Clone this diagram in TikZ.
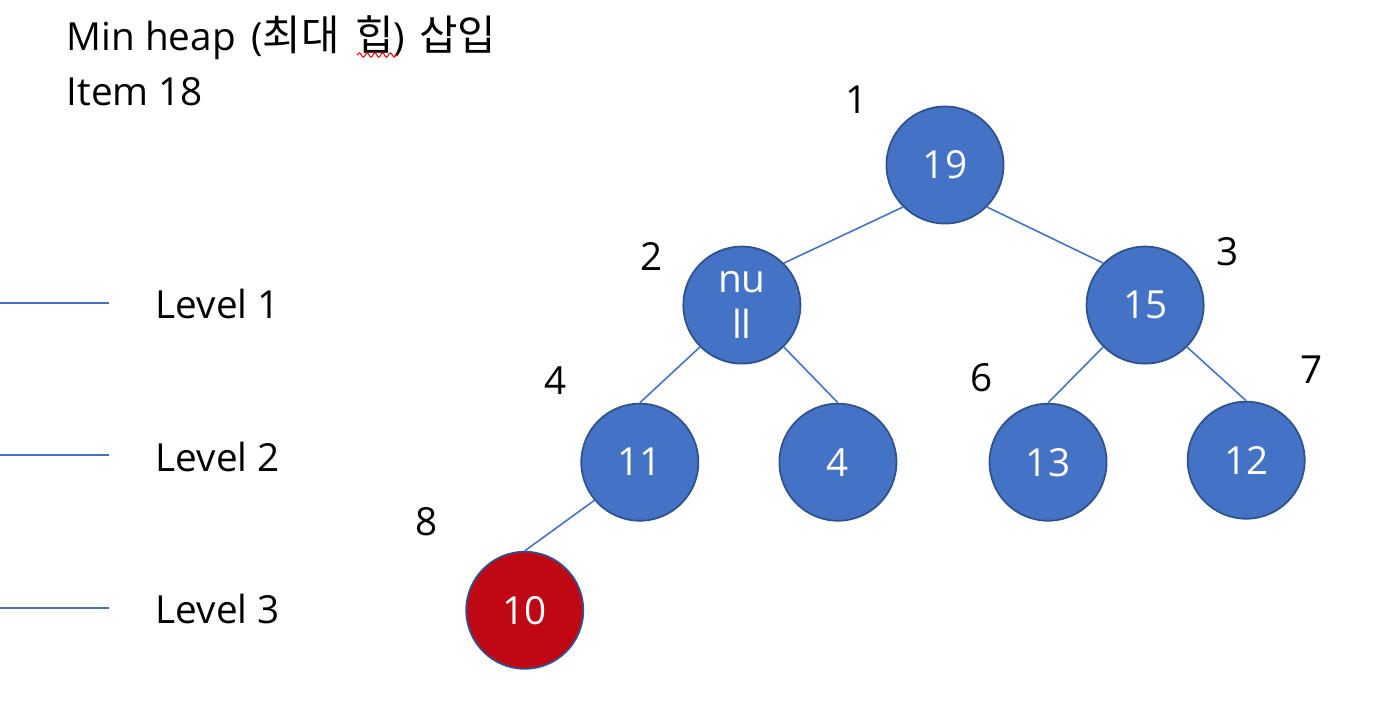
\documentclass[tikz,border=0pt]{standalone}
\usepackage{fontspec}
\setmainfont{Open Sans}
\newfontfamily\kr[Scale=1.08]{Noto Sans CJK KR}
\usetikzlibrary{positioning}
\usetikzlibrary{decorations.pathmorphing}
\definecolor{heapblue}{RGB}{68,114,196}
\definecolor{heapborder}{RGB}{47,82,143}
\definecolor{heapred}{RGB}{192,7,20}

\begin{document}
\begin{tikzpicture}[
    x=0.01cm, y=-0.01cm,
    node distance=1cm, on grid,
    every node/.style={font=\fontsize{11}{13}\selectfont},
    heapnode/.style={circle, fill=heapblue, draw=heapborder, line width=0.5pt, minimum size=1.17cm, inner sep=0pt, text=white, align=center},
    newnode/.style={heapnode, fill=heapred},
    plain/.style={inner sep=0pt},
    link/.style={draw=heapblue, line width=0.45pt}
]
\useasboundingbox (0,0) rectangle (1396,708);

% title
\node[plain, anchor=base west] (title) at (66,50) {Min heap\hspace{1.5pt} ({\kr 최대}\hspace{4.5pt}{\kr 힙})\hspace{4pt}{\kr 삽입}};
\node[plain, anchor=base west] (item) at (66,105) {Item 18};
\draw[red, line width=0.3pt, decorate, decoration={snake, amplitude=0.6pt, segment length=2.2pt}] (357,55) -- (398,55);

% levels
\coordinate (lv1a) at (0,303);
\coordinate (lv1b) at (109,303);
\coordinate (lv2a) at (0,455);
\coordinate (lv2b) at (109,455);
\coordinate (lv3a) at (0,608);
\coordinate (lv3b) at (109,608);
\draw[link] (lv1a) -- (lv1b);
\draw[link] (lv2a) -- (lv2b);
\draw[link] (lv3a) -- (lv3b);
\node[plain, anchor=west] (lv1) at (155,304) {Level 1};
\node[plain, anchor=west] (lv2) at (155,457) {Level 2};
\node[plain, anchor=west] (lv3) at (155,609) {Level 3};

% heap
\node[heapnode] (n1) at (945,165) {19};
\node[heapnode] (n2) [below left=1.40cm and 2.03cm of n1] {nu\\ll};
\node[heapnode] (n3) [below right=1.40cm and 2.00cm of n1] {15};
\node[heapnode] (n4) [below left=1.57cm and 1.02cm of n2] {11};
\node[heapnode] (n5) [below right=1.57cm and 0.96cm of n2] {4};
\node[heapnode] (n6) [below left=1.57cm and 0.97cm of n3] {13};
\node[heapnode] (n7) [below right=1.55cm and 1.01cm of n3] {12};
\node[newnode] (n8) [below left=1.48cm and 1.15cm of n4] {10};

% index
\node (i1) [above left=0.65cm and 0.88cm of n1] {1};
\node (i2) [above left=0.49cm and 0.90cm of n2] {2};
\node (i3) [above right=0.53cm and 0.82cm of n3] {3};
\node (i4) [above left=0.82cm and 0.84cm of n4] {4};
\node (i6) [above left=0.84cm and 0.66cm of n6] {6};
\node (i7) [above right=0.90cm and 0.65cm of n7] {7};
\node (i8) [above left=0.89cm and 0.98cm of n8] {8};

\draw[link] (n1.south west) -- (n2.north east);
\draw[link] (n1.south east) -- (n3.north west);
\draw[link] (n2.south west) -- (n4.north);
\draw[link] (n2.south east) -- (n5.north);
\draw[link] (n3.south west) -- (n6.north);
\draw[link] (n3.south east) -- (n7.north);
\draw[link] (n4.220) -- (n8.north);

\end{tikzpicture}
\end{document}
